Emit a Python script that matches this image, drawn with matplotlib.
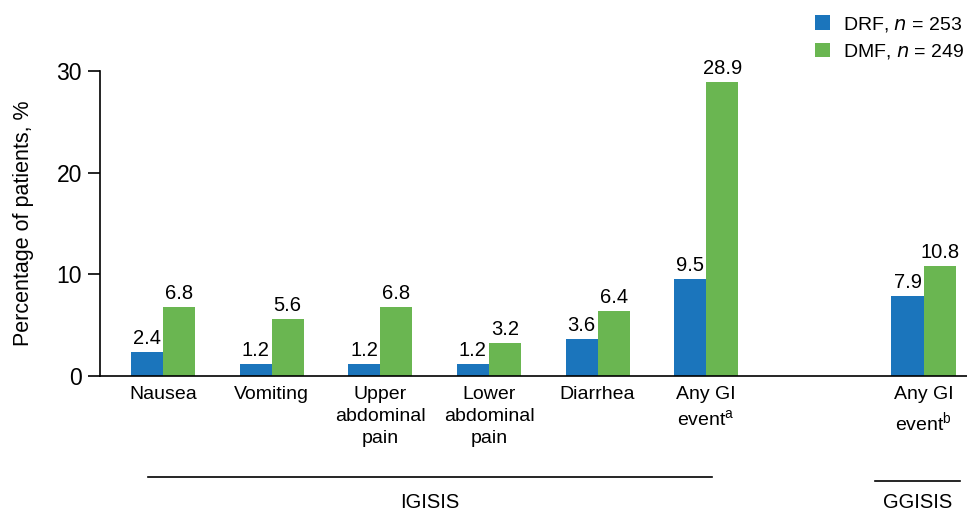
import matplotlib
matplotlib.use("Agg")
import matplotlib.pyplot as plt
import numpy as np

plt.rcParams["font.family"] = ["Liberation Sans", "DejaVu Sans"]

categories = ["Nausea", "Vomiting", "Upper\nabdominal\npain", "Lower\nabdominal\npain",
              "Diarrhea", "Any GI\nevent$^{\\mathregular{a}}$", "Any GI\nevent$^{\\mathregular{b}}$"]
positions = [0, 1, 2, 3, 4, 5, 7]
drf = [2.4, 1.2, 1.2, 1.2, 3.6, 9.5, 7.9]
dmf = [6.8, 5.6, 6.8, 3.2, 6.4, 28.9, 10.8]
drf_label = "DRF, $\\it{n}$ = 253"
dmf_label = "DMF, $\\it{n}$ = 249"

blue = "#1b75bc"
green = "#6ab651"
w = 0.295

fig = plt.figure(figsize=(9.67, 5.13), dpi=100)
ax = fig.add_axes([0.1034, 0.267, 0.8966, 0.5946])

x = np.array(positions)
b1 = ax.bar(x - w / 2, drf, w, color=blue, label=drf_label)
b2 = ax.bar(x + w / 2, dmf, w, color=green, label=dmf_label)
for bars, vals in [(b1, drf), (b2, dmf)]:
    for r, v in zip(bars, vals):
        ax.text(r.get_x() + r.get_width() / 2, v + 0.4, f"{v:.1f}",
                ha="center", va="bottom", fontsize=14.5)

ax.set_xlim(-0.58, 7.40)
ax.set_ylim(0, 30)
ax.set_yticks([0, 10, 20, 30])
ax.set_xticks(positions)
ax.set_xticklabels(categories, fontsize=14, linespacing=1.4)
ax.tick_params(axis="x", length=0, pad=7)
ax.tick_params(axis="y", labelsize=16.5, length=9, width=1.2, pad=4)
for s in ["top", "right"]:
    ax.spines[s].set_visible(False)
for s in ["left", "bottom"]:
    ax.spines[s].set_linewidth(1.2)
ax.set_ylabel("Percentage of patients, %", fontsize=15.5, labelpad=16)

ax.legend(loc="upper right", bbox_to_anchor=(1.006, 1.21), frameon=False,
          fontsize=14, handlelength=0.75, handleheight=0.75, handletextpad=0.7,
          labelspacing=0.45, borderaxespad=0)

# group brackets
fig.add_artist(plt.Line2D([148 / 967, 712 / 967], [1 - 477 / 513] * 2, color="black", lw=1.2))
fig.text(430 / 967, 1 - 502 / 513, "IGISIS", ha="center", va="center", fontsize=14.5)
fig.add_artist(plt.Line2D([875 / 967, 960 / 967], [1 - 481 / 513] * 2, color="black", lw=1.2))
fig.text(918 / 967, 1 - 502 / 513, "GGISIS", ha="center", va="center", fontsize=14.5)

fig.savefig("out.png", dpi=100)
